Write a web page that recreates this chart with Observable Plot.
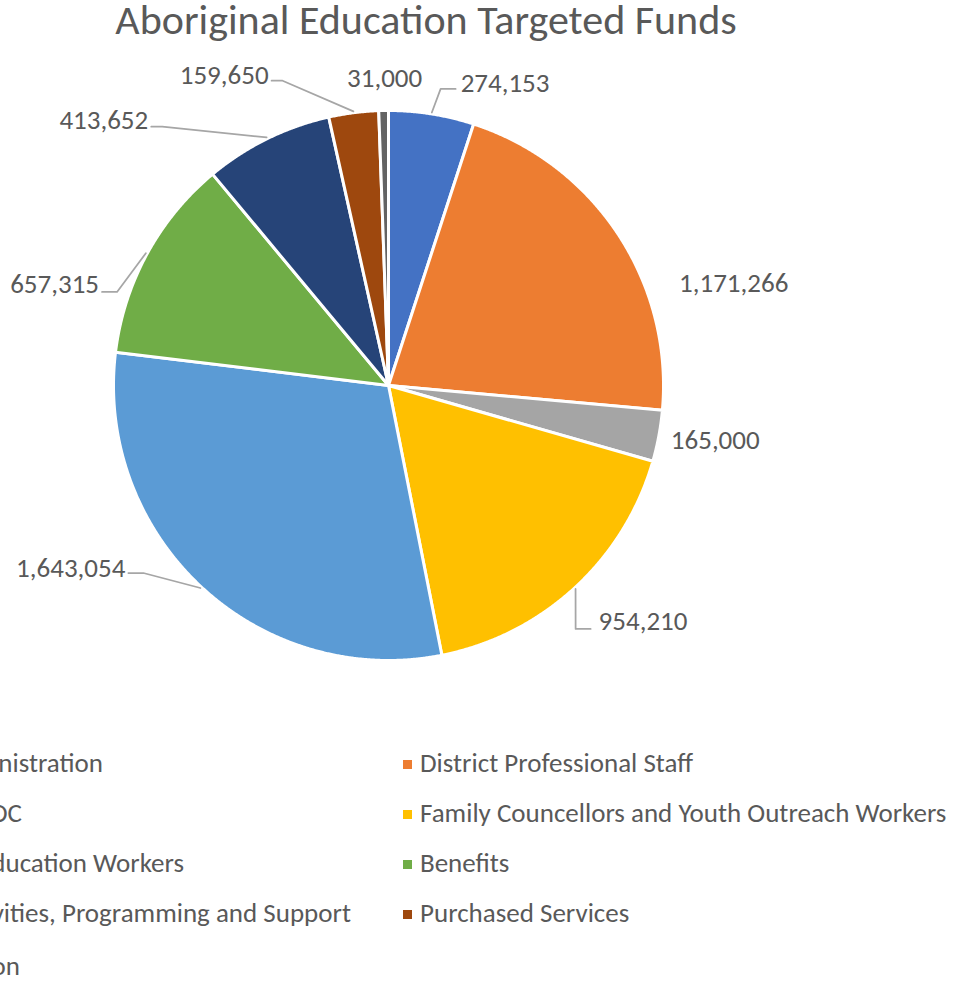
<!DOCTYPE html>
<html>
<head>
<meta charset="utf-8">
<script src="https://cdn.jsdelivr.net/npm/d3@7"></script>
<script src="https://cdn.jsdelivr.net/npm/@observablehq/plot@0.6"></script>
<style>
  html, body { margin: 0; padding: 0; background: #fff; overflow: hidden; width: 956px; height: 981px; }
  #page { position: relative; width: 956px; height: 981px; overflow: hidden;
          font-family: Carlito, Calibri, Lato, sans-serif; color: #595959; }
  #title { position: absolute; left: 0; top: 0; width: 852px; text-align: center;
           font-size: 42px; line-height: 40px; white-space: nowrap; }
  #chart { position: absolute; left: 0; top: 50px; }
  .leg { position: absolute; font-size: 27px; line-height: 30px; white-space: nowrap; }
  .leg .sw { display: inline-block; width: 9px; height: 9px; margin-right: 8px; vertical-align: 3px; }
</style>
</head>
<body>
<div id="page">
  <div id="title">Aboriginal Education Targeted Funds</div>
  <div id="chart"></div>
  <div id="legend"></div>
</div>
<script>
// ---- data ----
const categories = [
  "Administration",
  "District Professional Staff",
  "AEOC",
  "Family Councellors and Youth Outreach Workers",
  "Aboriginal Education Workers",
  "Benefits",
  "Cultural Activities, Programming and Support",
  "Purchased Services",
  "Transportation"
];
const values = [274153, 1171266, 165000, 954210, 1643054, 657315, 413652, 159650, 31000];

// ---- styles / layout (kept separate from data) ----
const sliceColors = ["#4472C4", "#ED7D31", "#A5A5A5", "#FFC000", "#5B9BD5", "#70AD47", "#264478", "#9E480E", "#636363"];
// label offsets (px) from the slice's outer arc midpoint; leader = elbow & end offsets relative to label anchor
const labelLayout = [
  {dx: 29,   dy: -31, anchor: "start",  leader: [[-20, 6], [-5, 6]]},
  {dx: 61,   dy: 49,  anchor: "start",  leader: null},
  {dx: 12,   dy: 4,   anchor: "start",  leader: null},
  {dx: 24,   dy: 33,  anchor: "start",  leader: [[-23, 8], [-8, 8]]},
  {dx: -76,  dy: -19, anchor: "end",    leader: [[18, 5], [3, 5]]},
  {dx: -48,  dy: 30,  anchor: "end",    leader: [[18, 8], [3, 8]]},
  {dx: -119, dy: -18, anchor: "end",    leader: [[14, 6], [3, 6]]},
  {dx: -85,  dy: -37, anchor: "end",    leader: [[14, 5], [3, 5]]},
  {dx: 1,    dy: -32, anchor: "middle", leader: null}
];
// legend: two columns; left column is cropped by the picture edge (right edge of text given)
const legendLeftEnds = [103, 22, 184, 351, 20];

const W = 956, H = 690, R = 275, cx = 388, cy = 335;
const fmt = d3.format(",");

const rows = categories.map((name, i) => ({name, value: values[i]}));
const arcs = d3.pie().sort(null).value(d => d.value)(rows);

const slicePts = [];
for (const a of arcs) {
  const name = a.data.name;
  slicePts.push({name, x: 0, y: 0});
  const n = Math.max(4, Math.ceil((a.endAngle - a.startAngle) / 0.004));
  for (let i = 0; i <= n; i++) {
    const t = a.startAngle + (a.endAngle - a.startAngle) * i / n;
    slicePts.push({name, x: Math.sin(t), y: Math.cos(t)});
  }
  slicePts.push({name, x: 0, y: 0});
}

const labels = [];
const leaders = [];
arcs.forEach((a, i) => {
  const m = (a.startAngle + a.endAngle) / 2;
  const ax = Math.sin(m), ay = Math.cos(m);
  const L = labelLayout[i];
  const lx = ax + L.dx / R, ly = ay - L.dy / R;
  labels.push({name: a.data.name, x: lx, y: ly, text: fmt(a.data.value), anchor: L.anchor});
  if (L.leader) {
    const r0 = 1.005;
    leaders.push({name: a.data.name, x: Math.sin(m) * r0, y: Math.cos(m) * r0});
    for (const [ex, ey] of L.leader) leaders.push({name: a.data.name, x: lx + ex / R, y: ly - ey / R});
  }
});

const textStyle = {fontSize: 27, fill: "#595959", fontFamily: "Carlito, Calibri, Lato, sans-serif"};

const chart = Plot.plot({
  width: W, height: H, margin: 0,
  x: {domain: [-cx / R, (W - cx) / R], axis: null},
  y: {domain: [-(H - cy) / R, cy / R], axis: null},
  color: {domain: categories, range: sliceColors},
  style: {background: "white", overflow: "visible"},
  marks: [
    Plot.line(slicePts, {x: "x", y: "y", z: "name", fill: "name", stroke: "white", strokeWidth: 3, strokeLinejoin: "round", curve: "linear"}),
    Plot.line(leaders, {x: "x", y: "y", z: "name", stroke: "#A6A6A6", strokeWidth: 1.75, curve: "linear"}),
    Plot.text(labels.filter(d => d.anchor === "start"), {x: "x", y: "y", text: "text", textAnchor: "start", ...textStyle}),
    Plot.text(labels.filter(d => d.anchor === "end"), {x: "x", y: "y", text: "text", textAnchor: "end", ...textStyle}),
    Plot.text(labels.filter(d => d.anchor === "middle"), {x: "x", y: "y", text: "text", textAnchor: "middle", ...textStyle})
  ]
});
document.getElementById("chart").appendChild(chart);

// ---- legend (HTML) ----
const legend = document.getElementById("legend");
const rowTops = [748, 798, 848, 898, 951];
const leftIdx = [0, 2, 4, 6, 8];
const rightIdx = [1, 3, 5, 7];
leftIdx.forEach((ci, r) => {
  const d = document.createElement("div");
  d.className = "leg";
  d.style.top = rowTops[r] + "px";
  d.style.right = (W - legendLeftEnds[r]) + "px";
  d.innerHTML = `<span class="sw" style="background:${sliceColors[ci]}"></span>`;
  d.appendChild(document.createTextNode(categories[ci]));
  legend.appendChild(d);
});
rightIdx.forEach((ci, r) => {
  const d = document.createElement("div");
  d.className = "leg";
  d.style.top = rowTops[r] + "px";
  d.style.left = "403px";
  d.innerHTML = `<span class="sw" style="background:${sliceColors[ci]}"></span>`;
  d.appendChild(document.createTextNode(categories[ci]));
  legend.appendChild(d);
});
</script>
</body>
</html>
